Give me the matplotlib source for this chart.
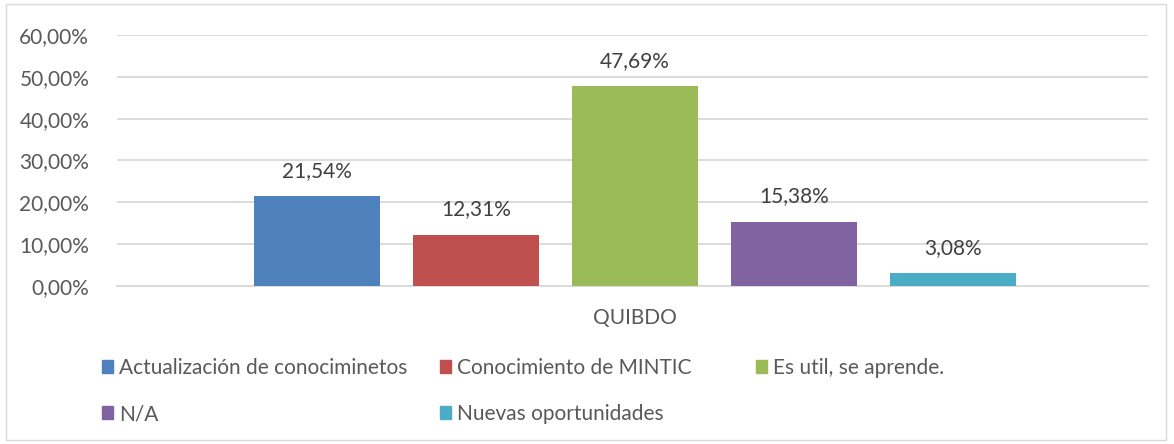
import matplotlib.pyplot as plt
from matplotlib.patches import Rectangle, Patch

categories = ["Actualización de conociminetos", "Conocimiento de MINTIC",
              "Es util, se aprende.", "N/A", "Nuevas oportunidades"]
values = [21.54, 12.31, 47.69, 15.38, 3.08]
colors = ["#4F81BD", "#C0504D", "#9BBB59", "#8064A2", "#4BACC6"]
yticks = [0, 10, 20, 30, 40, 50, 60]
group = "QUIBDO"

plt.rcParams['font.family'] = ['Lato', 'DejaVu Sans']
txt = "#595959"
fs = 15

fig = plt.figure(figsize=(11.74, 4.44), dpi=100)
ax = fig.add_axes([117/1174, 158/444, (1148-117)/1174, (409-158)/444])

x = list(range(len(values)))
ax.bar(x, values, width=0.79, color=colors, zorder=3)
for xi, v in zip(x, values):
    ax.annotate(f"{v:.2f}%".replace(".", ","), (xi, v), xytext=(0, 11),
                textcoords="offset points", ha="center", va="bottom",
                fontsize=fs, color="#404040")

ax.set_xlim(-1.258, 5.226)
ax.set_ylim(0, 60)
ax.set_yticks(yticks)
ax.set_yticklabels([f"{t:.2f}%".replace(".", ",") for t in yticks],
                   fontsize=fs, color=txt)
ax.set_xticks([2])
ax.set_xticklabels([group], fontsize=fs, color=txt)
ax.tick_params(axis="both", length=0)
ax.tick_params(axis="y", pad=20)
ax.tick_params(axis="x", pad=16)
ax.grid(axis="y", color="#d9d9d9", linewidth=1.3, zorder=0)
for s in ["top", "right", "left"]:
    ax.spines[s].set_visible(False)
ax.spines["bottom"].set_color("#d9d9d9")
ax.spines["bottom"].set_linewidth(1.3)

handles = [Patch(color=c, label=l) for c, l in zip(colors, categories)]
cols = [([0, 3], 102), ([1, 4], 440), ([2], 756)]
for idx, px in cols:
    fig.legend([handles[i] for i in idx], [categories[i] for i in idx],
               loc="upper left", bbox_to_anchor=(px/1174, 1 - 358/444),
               frameon=False, fontsize=fs, labelcolor=txt,
               handlelength=0.55, handleheight=0.55, handletextpad=0.25,
               labelspacing=1.25, borderpad=0, borderaxespad=0)

fig.patches.append(Rectangle((6/1174, 4/444), 1160/1174, 436/444,
                             transform=fig.transFigure, fill=False,
                             edgecolor="#d9d9d9", linewidth=1))

fig.savefig("out.png", dpi=100)
